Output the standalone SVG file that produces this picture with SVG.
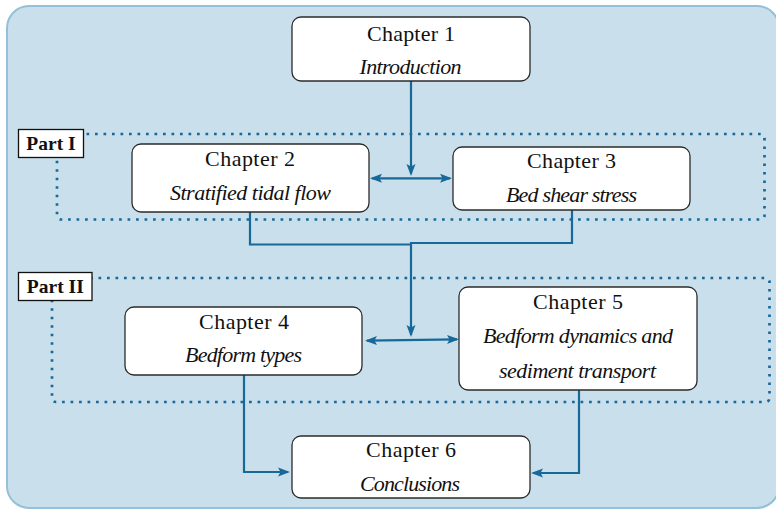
<svg xmlns="http://www.w3.org/2000/svg" width="776" height="510" viewBox="0 0 776 510">
<style>
.bg{fill:#c9dfeb;stroke:#94c0da;stroke-width:2}
.box{fill:#ffffff;stroke:#2b2b2b;stroke-width:1.3}
.t{font-family:"Liberation Serif","Times New Roman",serif;font-size:22px;fill:#111;text-anchor:middle}
.i{font-style:italic}
.lab{fill:#ffffff;stroke:#111;stroke-width:1.3}
.lt{font-family:"Liberation Serif","Times New Roman",serif;font-size:19.5px;font-weight:bold;fill:#111;text-anchor:middle}
.dot{fill:none;stroke:#17699a;stroke-width:2.7;stroke-dasharray:2.7 5.8}
.c{fill:none;stroke:#17699a;stroke-width:2.2}
.ar{marker-end:url(#ah)}
.dbl{marker-start:url(#ah);marker-end:url(#ah)}
</style>
<defs>
<marker id="ah" viewBox="0 0 12 10" refX="10" refY="5" markerWidth="12" markerHeight="10" markerUnits="userSpaceOnUse" orient="auto-start-reverse">
<path d="M0,0.5 L12,5 L0,9.5 L2.5,5 z" fill="#17699a"/>
</marker>
</defs>
<rect class="bg" x="7" y="6" width="772" height="502" rx="22"/>
<g id="part1">
<rect class="dot" x="57" y="134" width="707.5" height="85.5" rx="4"/>
<rect class="lab" x="18.5" y="129.5" width="65" height="28"/>
<text class="lt" x="51" y="150">Part I</text>
</g>
<g id="part2">
<rect class="dot" x="52" y="278" width="717.5" height="124" rx="4"/>
<rect class="lab" x="18.5" y="272.5" width="73.5" height="28"/>
<text class="lt" x="55.3" y="293">Part II</text>
</g>
<g id="connectors">
<path class="c ar" d="M411,81 V174"/>
<path class="c dbl" d="M372,178.3 H450"/>
<path class="c" d="M250,212 V244.5 H411"/>
<path class="c ar" d="M572,210 V243 H411 V335"/>
<path class="c dbl" d="M367,340.7 L457,339.3"/>
<path class="c ar" d="M244,375 V472 H288"/>
<path class="c ar" d="M579,390 V473 H533"/>
</g>
<g id="ch1">
<rect class="box" x="292" y="17" width="238" height="64" rx="9"/>
<text class="t" x="411" y="41" textLength="88">Chapter 1</text>
<text class="t i" x="410.5" y="74" textLength="102">Introduction</text>
</g>
<g id="ch2">
<rect class="box" x="132" y="144" width="237" height="68" rx="9"/>
<text class="t" x="250" y="166" textLength="90">Chapter 2</text>
<text class="t i" x="250.5" y="200" textLength="161">Stratified tidal flow</text>
</g>
<g id="ch3">
<rect class="box" x="453" y="147" width="237" height="63" rx="9"/>
<text class="t" x="571.5" y="168" textLength="89">Chapter 3</text>
<text class="t i" x="571.5" y="202" textLength="131">Bed shear stress</text>
</g>
<g id="ch4">
<rect class="box" x="125" y="307" width="237" height="68" rx="9"/>
<text class="t" x="244" y="329" textLength="90">Chapter 4</text>
<text class="t i" x="243.5" y="362" textLength="117">Bedform types</text>
</g>
<g id="ch5">
<rect class="box" x="459" y="287" width="238" height="103" rx="9"/>
<text class="t" x="578" y="309" textLength="90">Chapter 5</text>
<text class="t i" x="578" y="343" textLength="190">Bedform dynamics and</text>
<text class="t i" x="577.5" y="378" textLength="157">sediment transport</text>
</g>
<g id="ch6">
<rect class="box" x="292" y="436" width="238" height="62" rx="9"/>
<text class="t" x="411" y="457" textLength="90">Chapter 6</text>
<text class="t i" x="410" y="491" textLength="100">Conclusions</text>
</g>
</svg>
